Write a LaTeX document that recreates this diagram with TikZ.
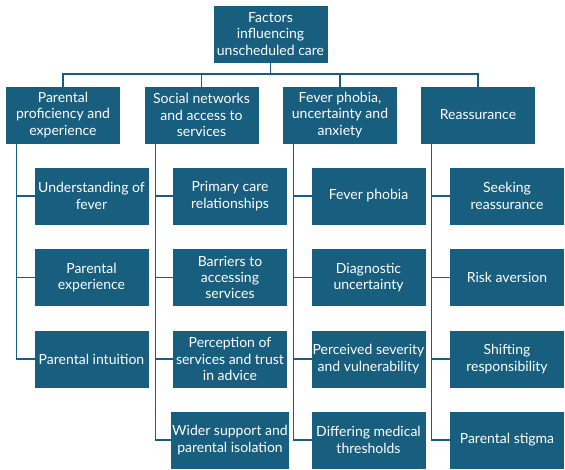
\documentclass[tikz,border=0pt]{standalone}
\usepackage{fontspec}
\setmainfont{Lato}
\usetikzlibrary{positioning}
\definecolor{boxblue}{RGB}{24,94,126}
\tikzset{
	% the boxes
	catbox/.style={fill=boxblue,draw=boxblue,text=white,
		minimum width=84.75pt,minimum height=42pt,inner xsep=0.5pt,
		align=center,font=\fontsize{10.5}{12.2}\selectfont},
	% the connectors
	link/.style={draw=boxblue,line width=1pt},
}

\begin{document}
\begin{tikzpicture}[x=0.75pt,y=-0.75pt]
\useasboundingbox (0,0) rectangle (565,469);
% the root and the four themes
\node[catbox] (root) at (270.5,34) {Factors\\influencing\\unscheduled care};
\node[catbox] (t1) at (63,115) {Parental\\proficiency and\\experience};
\node[catbox] (t2) at (201.5,115) {Social networks\\and access to\\services};
\node[catbox] (t3) at (340,115) {Fever phobia,\\uncertainty and\\anxiety};
\node[catbox] (t4) at (478,115) {Reassurance};
% the sub-themes
\foreach \name/\x/\y/\txt in {
  s1a/91.5/196/{Understanding of\\fever},
  s1b/91.5/277.5/{Parental\\experience},
  s1c/91.5/359/{Parental intuition},
  s2a/230/196/{Primary care\\relationships},
  s2b/230/277.5/{Barriers to\\accessing\\services},
  s2c/230/359/{Perception of\\services and trust\\in advice},
  s2d/230/440/{Wider support and\\parental isolation},
  s3a/368.5/196/{Fever phobia},
  s3b/368.5/277.5/{Diagnostic\\uncertainty},
  s3c/368.5/359/{Perceived severity\\and vulnerability},
  s3d/368.5/440/{Differing medical\\thresholds},
  s4a/507/196/{Seeking\\reassurance},
  s4b/507/277.5/{Risk aversion},
  s4c/507/359/{Shifting\\responsibility},
  s4d/507/440/{Parental stigma}}
  \node[catbox] (\name) at (\x,\y) {\txt};
% root to themes
\coordinate (bar) at (270.5,74);
\draw[link] (root.south) -- (bar);
\draw[link] (t1.north) |- (bar) -| (t4.north);
\foreach \t in {t2,t3}
  \draw[link] (\t.north) -- (\t.north |- bar);
% themes to sub-themes
\foreach \t/\s in {t1/s1a,t1/s1b,t1/s1c,t2/s2a,t2/s2b,t2/s2c,t2/s2d,
                   t3/s3a,t3/s3b,t3/s3c,t3/s3d,t4/s4a,t4/s4b,t4/s4c,t4/s4d}
  \draw[link] ([xshift=7.9pt]\t.south west) |- (\s.west);
\end{tikzpicture}
\end{document}
